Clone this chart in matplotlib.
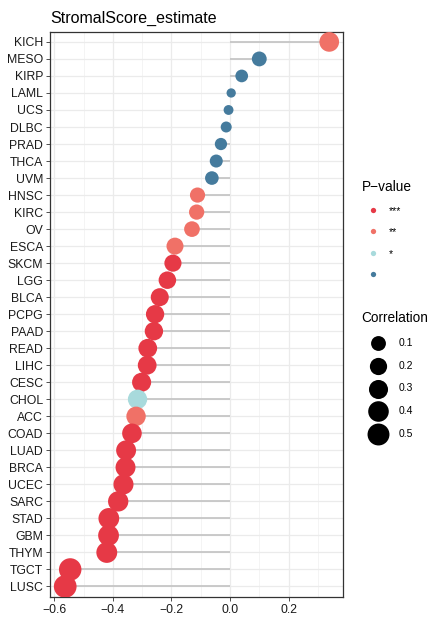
import matplotlib
matplotlib.use("Agg")
import matplotlib.pyplot as plt
from matplotlib.lines import Line2D
import numpy as np

plt.rcParams['font.family'] = ['Liberation Sans', 'DejaVu Sans']

cancers = ["KICH", "MESO", "KIRP", "LAML", "UCS", "DLBC", "PRAD", "THCA", "UVM",
           "HNSC", "KIRC", "OV", "ESCA", "SKCM", "LGG", "BLCA", "PCPG", "PAAD",
           "READ", "LIHC", "CESC", "CHOL", "ACC", "COAD", "LUAD", "BRCA", "UCEC",
           "SARC", "STAD", "GBM", "THYM", "TGCT", "LUSC"]
cor = [0.339, 0.100, 0.040, 0.004, -0.005, -0.013, -0.031, -0.047, -0.062,
       -0.111, -0.114, -0.130, -0.188, -0.195, -0.214, -0.240, -0.256, -0.260,
       -0.281, -0.283, -0.302, -0.316, -0.321, -0.335, -0.355, -0.357, -0.364,
       -0.382, -0.414, -0.415, -0.421, -0.546, -0.563]
sig = ["**", "", "", "", "", "", "", "", "",
       "**", "**", "**", "**", "***", "***", "***", "***", "***",
       "***", "***", "***", "*", "**", "***", "***", "***", "***",
       "***", "***", "***", "***", "***", "***"]

sig_levels = ["***", "**", "*", ""]
sig_colors = {"***": "#E63946", "**": "#F07167", "*": "#A8DADC", "": "#457B9D"}
size_breaks = [0.1, 0.2, 0.3, 0.4, 0.5]

# ggplot-like area scale: diameter from 9.3px to 22.7px over |cor| range
rmin = min(abs(r) for r in cor)
rmax = max(abs(r) for r in cor)


def msize(r):
    frac = (abs(r) - rmin) / (rmax - rmin)
    d = 9.3 + 13.4 * np.sqrt(max(frac, 0))
    return (d * 0.72) ** 2


fig = plt.figure(figsize=(4.32, 6.18), dpi=100)
ax = fig.add_axes([50 / 432, 1 - 596.7 / 618, 292.7 / 432, 565 / 618])

n = len(cancers)
y = np.arange(n)[::-1]
ax.hlines(y, 0, cor, color="#c6c6c6", lw=1.3, zorder=2)
ax.scatter(cor, y, s=[msize(r) for r in cor], c=[sig_colors[s] for s in sig],
           linewidths=0, zorder=3)

ax.set_ylim(-0.6, n - 1 + 0.6)
ax.set_yticks(y)
ax.set_yticklabels(cancers)
ax.set_xlim(-0.615, 0.385)
ax.set_xticks([-0.6, -0.4, -0.2, 0.0, 0.2])
ax.set_xticklabels(["\u22120.6", "\u22120.4", "\u22120.2", "0.0", "0.2"])
ax.set_xticks([-0.5, -0.3, -0.1, 0.1, 0.3], minor=True)
ax.grid(True, which="major", color="#ebebeb", lw=0.9, zorder=0)
ax.grid(True, which="minor", axis="x", color="#f2f2f2", lw=0.6, zorder=0)
ax.set_axisbelow(True)
ax.tick_params(axis="both", which="major", labelsize=8.8, length=3, width=0.6,
               color="#333333", labelcolor="#1a1a1a", pad=2)
ax.tick_params(which="minor", length=0)
for sp in ax.spines.values():
    sp.set_color("#333333")
    sp.set_linewidth(0.9)

fig.text(50 / 432, 1 - 18 / 618, "StromalScore_estimate", fontsize=11.5,
         va="center", ha="left")

# P-value legend
h1 = [Line2D([], [], ls="", marker="o", ms=3.8, mfc=sig_colors[s], mec="none")
      for s in sig_levels]
leg1 = fig.legend(h1, sig_levels, title="P\u2212value", loc="upper left",
                  bbox_to_anchor=(357 / 432, 1 - 175 / 618), frameon=False,
                  fontsize=7.5, title_fontsize=9.8, labelspacing=1.1,
                  handletextpad=0.6, alignment="left", borderpad=0)

# Correlation legend
h2 = [plt.scatter([], [], s=msize(b), c="black", linewidths=0) for b in size_breaks]
leg2 = fig.legend(h2, [str(b) for b in size_breaks], title="Correlation",
                  loc="upper left", bbox_to_anchor=(356 / 432, 1 - 306 / 618),
                  frameon=False, fontsize=7.5, title_fontsize=9.8, labelspacing=1.22,
                  handlelength=3.2, handletextpad=0.35, alignment="left", borderpad=0)

fig.savefig("out.png", dpi=100)
